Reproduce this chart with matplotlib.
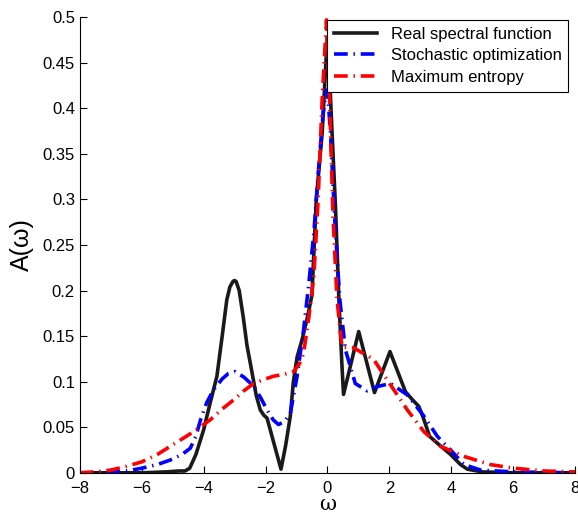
import matplotlib
matplotlib.use("Agg")
import matplotlib.pyplot as plt
from matplotlib.ticker import FuncFormatter

plt.rcParams['font.family'] = ['Liberation Sans', 'DejaVu Sans']

# real spectral function
x_real = [-8, -6, -5.2, -4.8, -4.6, -4.45, -4.25, -4.0, -3.8, -3.57, -3.4, -3.25,
          -3.15, -3.05, -3.0, -2.95, -2.85, -2.72, -2.6, -2.49, -2.3, -2.17, -2.05,
          -1.95, -1.75, -1.5, -1.35, -1.2, -1.1, -0.98, -0.82, -0.65, -0.5, -0.36,
          -0.17, -0.05, 0.0, 0.05, 0.15, 0.26, 0.37, 0.47, 0.52, 1.01, 1.52, 2.02,
          2.52, 2.75, 2.95, 3.1, 3.3, 3.55, 3.98, 4.3, 4.52, 5.0, 6.0, 8.0]
y_real = [0, 0, 0.001, 0.002, 0.002, 0.005, 0.02, 0.047, 0.075, 0.106, 0.15, 0.19,
          0.204, 0.21, 0.211, 0.21, 0.2, 0.171, 0.14, 0.12, 0.085, 0.069, 0.063,
          0.06, 0.035, 0.004, 0.03, 0.062, 0.1, 0.127, 0.146, 0.17, 0.195, 0.30,
          0.373, 0.45, 0.478, 0.45, 0.373, 0.292, 0.19, 0.117, 0.086, 0.155, 0.088,
          0.133, 0.089, 0.08, 0.073, 0.06, 0.04, 0.0325, 0.02, 0.009, 0.004, 0.001,
          0, 0]

# stochastic optimization
x_so = [-8, -7, -6.5, -6.0, -5.5, -5.08, -4.7, -4.43, -4.25, -4.1, -3.9, -3.68,
        -3.4, -3.2, -2.98, -2.7, -2.38, -2.15, -1.95, -1.75, -1.58, -1.4, -1.2,
        -0.98, -0.77, -0.6, -0.44, -0.28, -0.15, -0.05, 0.02, 0.1, 0.23, 0.4,
        0.58, 0.9, 1.28, 1.65, 2.04, 2.58, 3.12, 3.55, 3.98, 4.41, 4.95, 6.0, 8.0]
y_so = [0, 0.0005, 0.002, 0.005, 0.009, 0.014, 0.02, 0.027, 0.04, 0.058, 0.077,
        0.091, 0.103, 0.109, 0.111, 0.105, 0.095, 0.082, 0.069, 0.058, 0.053,
        0.056, 0.065, 0.106, 0.157, 0.208, 0.263, 0.336, 0.39, 0.42, 0.41, 0.373,
        0.281, 0.19, 0.135, 0.098, 0.09, 0.095, 0.098, 0.0855, 0.062, 0.04, 0.025,
        0.009, 0.003, 0.001, 0]

# maximum entropy
x_me = [-8, -7.5, -7, -6.5, -6.0, -5.5, -5.08, -4.7, -4.33, -3.79, -3.4, -3.03,
        -2.7, -2.38, -2.0, -1.74, -1.4, -1.09, -0.9, -0.77, -0.6, -0.44, -0.3,
        -0.17, -0.03, 0.07, 0.18, 0.31, 0.47, 0.85, 1.34, 1.5, 1.93, 2.58, 3.12,
        3.66, 4.41, 5.27, 6.03, 7.0, 8.0]
y_me = [0, 0.001, 0.003, 0.007, 0.012, 0.02, 0.029, 0.037, 0.045, 0.058, 0.07,
        0.08, 0.09, 0.098, 0.103, 0.106, 0.108, 0.111, 0.12, 0.131, 0.171, 0.215,
        0.30, 0.41, 0.497, 0.41, 0.281, 0.19, 0.138, 0.137, 0.1275, 0.124, 0.102,
        0.069, 0.045, 0.029, 0.018, 0.009, 0.005, 0.002, 0.001]

fig = plt.figure(figsize=(5.78, 5.19), dpi=100)
ax = fig.add_axes([0.138, 0.089, 0.857, 0.878])

dash_dot = (3.8, 1.6, 0.4, 1.6)
ax.plot(x_real, y_real, color='#1a1a1a', lw=2.6, label='Real spectral function')
ax.plot(x_so, y_so, color='#0000ff', lw=2.6, dashes=dash_dot,
        label='Stochastic optimization')
ax.plot(x_me, y_me, color='#ff0000', lw=2.6, dashes=dash_dot,
        label='Maximum entropy')

ax.set_xlim(-8, 8)
ax.set_ylim(0, 0.5)
ax.set_xticks(range(-8, 9, 2))
ax.set_yticks([i * 0.05 for i in range(11)])
ax.yaxis.set_major_formatter(FuncFormatter(lambda v, p: '%g' % round(v, 2)))
ax.xaxis.set_major_formatter(FuncFormatter(lambda v, p: ('%g' % v).replace('-', '\u2212')))
ax.tick_params(direction='in', labelsize=12, length=5, width=0.8)
ax.tick_params(axis='x', pad=6)

ax.spines['top'].set_visible(False)
ax.spines['right'].set_visible(False)

ax.set_xlabel('\u03c9', fontsize=15, family='DejaVu Serif', labelpad=-1)
ax.set_ylabel('A(\u03c9)', fontsize=18, labelpad=6)

leg = ax.legend(loc='upper right', bbox_to_anchor=(1.003, 1.012), fontsize=12,
                fancybox=False, framealpha=1, edgecolor='black',
                handlelength=2.6, borderpad=0.4, labelspacing=0.4)
leg.get_frame().set_linewidth(0.8)

fig.savefig('out.png', dpi=100)
